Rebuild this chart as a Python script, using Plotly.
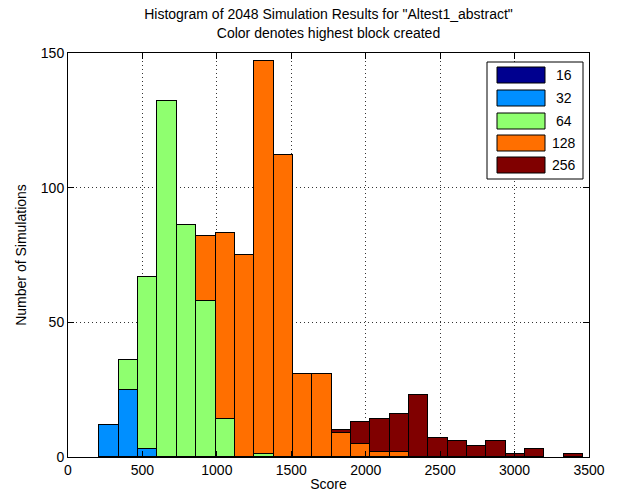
import plotly.graph_objects as go

bin_centers = [276, 406, 536, 666, 796, 926, 1056, 1186, 1316, 1446, 1576, 1706,
               1836, 1966, 2096, 2226, 2356, 2486, 2616, 2746, 2876, 3006, 3136, 3266, 3396]
bin_width = 130

series_names = ["16", "32", "64", "128", "256"]
counts_16 = [0] * 25
counts_32 = [12, 25, 3, 0, 0, 0, 0, 0, 0, 0, 0, 0, 0, 0, 0, 0, 0, 0, 0, 0, 0, 0, 0, 0, 0]
counts_64 = [0, 11, 64, 132, 86, 58, 14, 0, 1, 0, 0, 0, 0, 0, 0, 0, 0, 0, 0, 0, 0, 0, 0, 0, 0]
counts_128 = [0, 0, 0, 0, 0, 24, 69, 75, 146, 112, 31, 31, 9, 5, 2, 2, 0, 0, 0, 0, 0, 0, 0, 0, 0]
counts_256 = [0, 0, 0, 0, 0, 0, 0, 0, 0, 0, 0, 0, 1, 8, 12, 14, 23, 7, 6, 4, 6, 1, 3, 0, 1]
series_colors = ["#00008F", "#008FFF", "#8FFF6F", "#FF6F00", "#800000"]

x_ticks = [0, 500, 1000, 1500, 2000, 2500, 3000, 3500]
y_ticks = [0, 50, 100, 150]

FONT = "Liberation Sans, Arial, sans-serif"

fig = go.Figure()
all_counts = [counts_16, counts_32, counts_64, counts_128, counts_256]
for name, cnts, col in zip(series_names, all_counts, series_colors):
    fig.add_trace(go.Bar(
        x=bin_centers,
        y=[c if c > 0 else None for c in cnts],
        width=bin_width,
        name=name,
        marker=dict(color=col, line=dict(color="black", width=1)),
        showlegend=False,
    ))

W, H = 618, 497
L, R, T, B = 68, 29, 53, 40
pw, ph = W - L - R, H - T - B

def px(x):
    return (x - L) / pw

def py(y):
    return (H - B - y) / ph

shapes = []
annotations = []
# custom legend box
shapes.append(dict(type="rect", xref="paper", yref="paper",
                   x0=px(487), x1=px(583), y0=py(179), y1=py(62),
                   fillcolor="white", line=dict(color="black", width=1), layer="above"))
sw_tops = [67, 90, 113, 135, 157]
for i, (name, col) in enumerate(zip(series_names, series_colors)):
    t = sw_tops[i]
    shapes.append(dict(type="rect", xref="paper", yref="paper",
                       x0=px(497), x1=px(545), y0=py(t + 16), y1=py(t),
                       fillcolor=col, line=dict(color="black", width=1), layer="above"))
    annotations.append(dict(xref="paper", yref="paper", x=px(564), y=py(t + 8),
                            text=name, showarrow=False, xanchor="center", yanchor="middle",
                            font=dict(family=FONT, size=14, color="black")))

fig.update_layout(
    width=W, height=H,
    margin=dict(l=L, r=R, t=T, b=B, autoexpand=False),
    paper_bgcolor="white", plot_bgcolor="white",
    barmode="stack", bargap=0,
    font=dict(family=FONT, size=14, color="black"),
    title=dict(text='Histogram of 2048 Simulation Results for "Altest1_abstract"<br>Color denotes highest block created',
               x=0.5, xref="paper", xanchor="center", y=0.961, yanchor="top",
               font=dict(family=FONT, size=14, color="black")),
    shapes=shapes,
    annotations=annotations,
)
fig.update_xaxes(range=[0, 3500], tickvals=x_ticks, ticktext=[str(v) for v in x_ticks],
                 automargin=False,
                 showgrid=True, gridcolor="#333333", griddash="1px,3px", gridwidth=1,
                 zeroline=False, showline=True, linecolor="black", linewidth=1, mirror="ticks",
                 ticks="inside", ticklen=6, tickcolor="black",
                 title=dict(text="Score", standoff=2, font=dict(size=14)))
fig.update_yaxes(range=[0, 150], tickvals=y_ticks, ticktext=[str(v) for v in y_ticks],
                 automargin=False,
                 showgrid=True, gridcolor="#333333", griddash="1px,3px", gridwidth=1,
                 zeroline=False, showline=True, linecolor="black", linewidth=1, mirror="ticks",
                 ticks="inside", ticklen=6, tickcolor="black",
                 title=dict(text="Number of Simulations", standoff=10, font=dict(size=14)))

fig.write_html("out.html", config={"displayModeBar": False},
               post_script="document.body.style.margin='0';document.body.style.padding='0';")
